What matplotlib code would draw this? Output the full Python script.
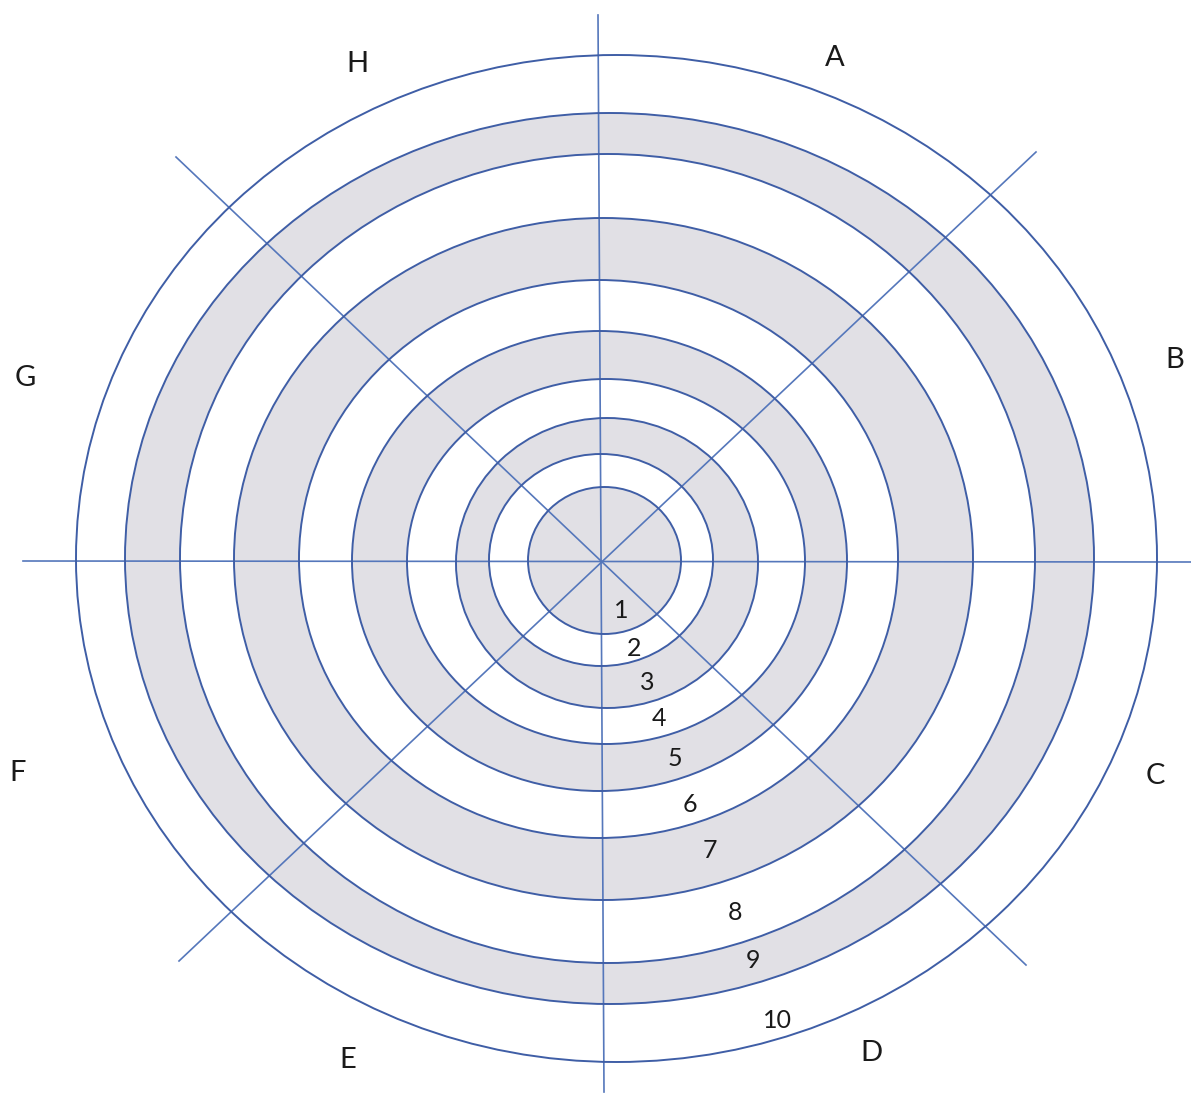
import matplotlib
matplotlib.use("Agg")
import matplotlib.pyplot as plt
from matplotlib.patches import Ellipse

# ring half-widths / half-heights (outer edge of each numbered band)
ring_rx = [76.5, 112, 151, 199, 247.5, 299.5, 369.5, 427.5, 484.5, 540.5]
ring_ry = [73.5, 106, 145, 182.5, 230, 279, 341, 404.5, 445.5, 503.5]
# small drift of each ring's centre (hand drawn)
ring_dx = [3.5, 0, 6, 5, -1.5, -2.5, 2.5, 6.5, 8.5, 15.5]
ring_dy = [-0.5, 0, -3, -1.5, -1, 1, 1, 1.5, 1.5, 1.5]
ring_labels = ["1", "2", "3", "4", "5", "6", "7", "8", "9", "10"]
shaded = [True, False, True, False, True, False, True, False, True, False]

sector_labels = ["A", "B", "C", "D", "E", "F", "G", "H"]

line_col = "#3f5ea6"
spoke_col = "#5577bb"
fill_col = "#e1e0e5"

fig = plt.figure(figsize=(11.91, 10.94), dpi=100)
ax = fig.add_axes([0, 0, 1, 1])
ax.set_xlim(-601, 590)
ax.set_ylim(-534, 560)
ax.axis("off")

# fills, outer band first so inner ones sit on top
for i in range(len(ring_rx) - 1, -1, -1):
    ax.add_patch(Ellipse((ring_dx[i], ring_dy[i]), 2 * ring_rx[i], 2 * ring_ry[i],
                         facecolor=fill_col if shaded[i] else "white",
                         edgecolor="none", zorder=1 + (len(ring_rx) - i) * 0.01))

# spokes
spokes = [((-3, 545), (3, -532)),
          ((-578, -1), (590, -2)),
          ((-425, 403), (425, -405)),
          ((435, 408), (-422, -401))]
for (x0, y0), (x1, y1) in spokes:
    ax.plot([x0, x1], [y0, y1], color=spoke_col, lw=1.2, zorder=3)

# outlines
for i in range(len(ring_rx)):
    ax.add_patch(Ellipse((ring_dx[i], ring_dy[i]), 2 * ring_rx[i], 2 * ring_ry[i],
                         facecolor="none", edgecolor=line_col, lw=1.4, zorder=4))

# sector letters
letter_pos = [(234, 502), (574, 200), (554, -216), (270, -493),
              (-253, -500), (-583, -213), (-576, 182), (-244, 496)]
for lab, (x, y) in zip(sector_labels, letter_pos):
    ax.text(x, y, lab, fontsize=21, family="Lato", color="#1a1a1a",
            ha="center", va="center", zorder=5)

# ring numbers
num_pos = [(20, -51), (33, -88), (46, -123), (58, -159), (74, -199),
           (89, -244), (109, -291), (134, -352), (152, -401), (176, -461)]
for lab, (x, y) in zip(ring_labels, num_pos):
    ax.text(x, y, lab, fontsize=18, family="Lato", color="#1a1a1a",
            ha="center", va="center", zorder=5)

fig.savefig("out.png", dpi=100, facecolor="white")
